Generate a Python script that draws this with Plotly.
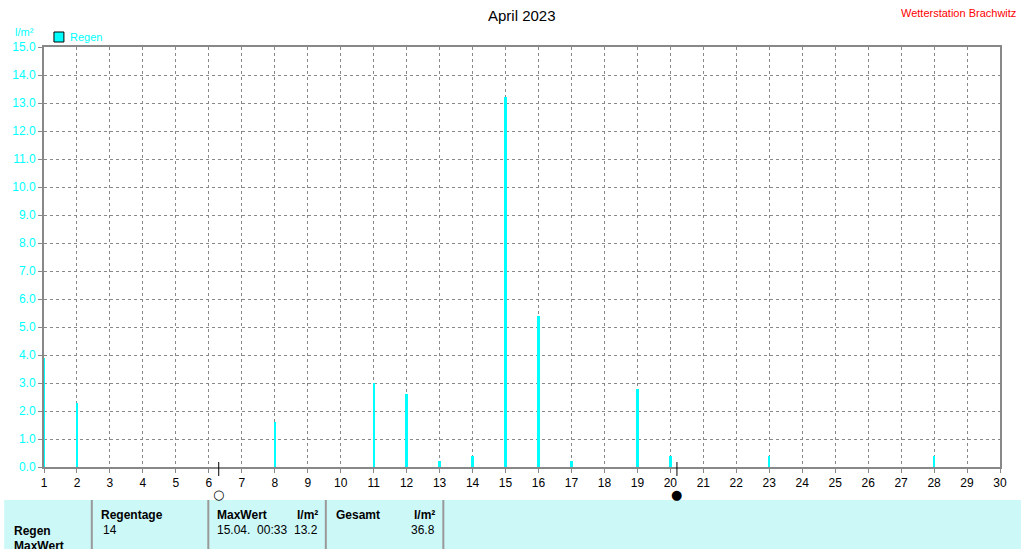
import plotly.graph_objects as go

days = [1, 2, 8, 11, 12, 13, 14, 15, 16, 17, 19, 20, 23, 28]
rain = [3.9, 2.3, 1.6, 3.0, 2.6, 0.2, 0.4, 13.2, 5.4, 0.2, 2.8, 0.4, 0.4, 0.4]
full_moon = 6.3
new_moon = 20.2

W, H = 1021, 549
L, R, T, B = 40, 21, 47, 82


def px(p):
    return (p - L) / (W - L - R)


def py(p):
    return (H - B - p) / (H - T - B)


fig = go.Figure()
fig.add_trace(go.Bar(x=days, y=rain, width=0.07, marker_color="#00ffff",
                     marker_line_width=0, name="Regen"))

fig.update_layout(
    width=W, height=H, margin=dict(l=L, r=R, t=T, b=B),
    plot_bgcolor="white", paper_bgcolor="white", showlegend=False,
    font=dict(family="Liberation Sans, Arial", size=12, color="black"),
    bargap=0,
)
fig.update_xaxes(range=[1, 30], tickvals=list(range(1, 31)), showgrid=True,
                 gridcolor="#888", griddash="3px,3px", gridwidth=1,
                 showline=True, linecolor="#888", linewidth=2, mirror=True,
                 ticks="outside", ticklen=4, tickcolor="#888", zeroline=False)
fig.update_yaxes(range=[0, 15], tickvals=[i for i in range(16)],
                 ticktext=[f"{i}.0" for i in range(16)],
                 tickfont=dict(color="#00ffff"), showgrid=True,
                 gridcolor="#888", griddash="3px,3px", gridwidth=1,
                 showline=True, linecolor="#888", linewidth=2, mirror=True,
                 ticks="outside", ticklen=4, tickcolor="#888", zeroline=False)

ann = [
    dict(x=0.5, y=py(15), text="April 2023", font=dict(size=15)),
    dict(x=px(1018), y=py(13), text="Wetterstation Brachwitz", font=dict(size=11, color="red"), xanchor="right"),
    dict(x=px(20), y=py(32), text="l/m²", font=dict(size=11, color="#00ffff")),
    dict(x=px(64), y=py(37), text="Regen", font=dict(size=11, color="#00ffff"), xanchor="left"),
    dict(x=px(8), y=py(531), text="<b>Regen</b>", xanchor="left"),
    dict(x=px(8), y=py(546), text="<b>MaxWert</b>", xanchor="left"),
    dict(x=px(95), y=py(515), text="<b>Regentage</b>", xanchor="left"),
    dict(x=px(97), y=py(530), text="14", xanchor="left"),
    dict(x=px(212), y=py(515), text="<b>MaxWert</b>", xanchor="left"),
    dict(x=px(317), y=py(515), text="<b>l/m²</b>", xanchor="right"),
    dict(x=px(212), y=py(530), text="15.04.  00:33", xanchor="left"),
    dict(x=px(317), y=py(530), text="13.2", xanchor="right"),
    dict(x=px(331), y=py(515), text="<b>Gesamt</b>", xanchor="left"),
    dict(x=px(435), y=py(515), text="<b>l/m²</b>", xanchor="right"),
    dict(x=px(435), y=py(530), text="36.8", xanchor="right"),
]
for a in ann:
    a.setdefault("xanchor", "center")
    fig.add_annotation(xref="paper", yref="paper", showarrow=False, yanchor="middle", **a)

for m, sym in [(full_moon, "○"), (new_moon, "●")]:
    fig.add_annotation(x=m, xref="x", y=py(486), yref="paper", yanchor="top", text=sym,
                       showarrow=False, borderpad=0,
                       font=dict(size=13, color="black", family="DejaVu Sans"))

shapes = [
    dict(type="rect", xref="paper", yref="paper", x0=px(0), x1=px(W), y0=py(500), y1=py(H + 5),
         fillcolor="#ccf8f8", line_width=0),
    dict(type="rect", xref="paper", yref="paper", x0=px(50), x1=px(60), y0=py(42), y1=py(32),
         fillcolor="#00ffff", line=dict(color="black", width=1)),
]
for xp in [88, 205, 323, 441]:
    shapes.append(dict(type="line", xref="paper", yref="paper", x0=px(xp), x1=px(xp),
                       y0=py(500), y1=py(H + 5), line=dict(color="#999", width=2)))
for m in [full_moon, new_moon]:
    shapes.append(dict(type="line", xref="x", yref="paper", x0=m, x1=m,
                       y0=py(462), y1=py(476), line=dict(color="black", width=1)))
fig.update_layout(shapes=shapes)

fig.write_html("out.html", config={"displayModeBar": False})

# remove the page's default body margin so the figure sits at the window's corner
with open("out.html", encoding="utf-8") as f:
    page = f.read()
page = page.replace("<head>", "<head><style>body{margin:0;overflow:hidden}</style>", 1)
with open("out.html", "w", encoding="utf-8") as f:
    f.write(page)
